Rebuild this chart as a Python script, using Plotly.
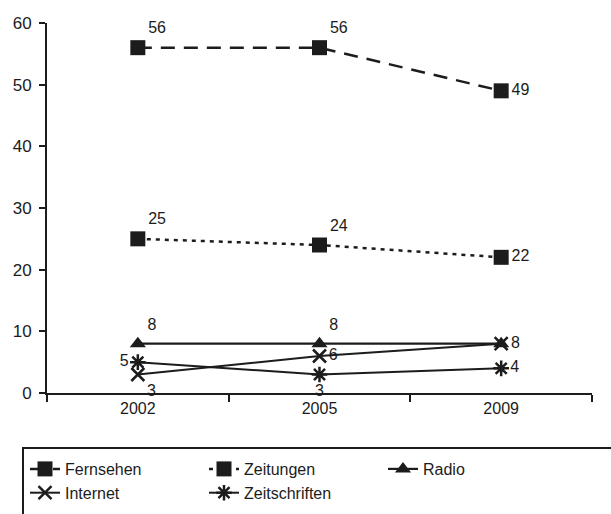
import plotly.graph_objects as go

years = ["2002", "2005", "2009"]
fernsehen = [56, 56, 49]
zeitungen = [25, 24, 22]
radio = [8, 8, 8]
internet = [3, 6, 8]
zeitschriften = [5, 3, 4]

FONT = "Liberation Sans, Arial, sans-serif"
INK = "#1c1c1c"

series = [
    dict(name="Fernsehen", y=fernsehen, dash="14px,9px", width=2.5,
         symbol="square", size=15, lw=0,
         pos=["top right", "top right", "middle right"], show=[True, True, True]),
    dict(name="Zeitungen", y=zeitungen, dash="4px,5px", width=2.5,
         symbol="square", size=15, lw=0,
         pos=["top right", "top right", "middle right"], show=[True, True, True]),
    dict(name="Radio", y=radio, dash="solid", width=2.2,
         symbol="triangle-up", size=14, lw=0,
         pos=["top right", "top right", "middle right"], show=[True, True, True]),
    dict(name="Internet", y=internet, dash="solid", width=2,
         symbol="x-thin-open", size=13, lw=2.5,
         pos=["bottom right", "middle right", "middle right"], show=[True, True, False]),
    dict(name="Zeitschriften", y=zeitschriften, dash="solid", width=2,
         symbol="asterisk-open", size=13, lw=2.5,
         pos=["middle left", "bottom center", "middle right"], show=[True, True, True]),
]

fig = go.Figure()
for s in series:
    fig.add_trace(go.Scatter(
        x=years, y=s["y"], name=s["name"], mode="lines+markers+text",
        line=dict(color=INK, width=s["width"], dash=s["dash"]),
        marker=dict(symbol=s["symbol"], size=s["size"], color=INK,
                    line=dict(color=INK, width=s["lw"])),
        text=[str(v) if sh else "" for v, sh in zip(s["y"], s["show"])],
        textposition=s["pos"],
        textfont=dict(family=FONT, size=16, color=INK),
        cliponaxis=False,
    ))

fig.update_layout(
    width=611, height=514,
    margin=dict(l=47, r=19, t=23, b=121),
    paper_bgcolor="white", plot_bgcolor="white",
    font=dict(family=FONT, size=16, color=INK),
    showlegend=True,
    legend=dict(orientation="h", xref="container", yref="container",
                x=25 / 611, y=1 - 452 / 514, xanchor="left", yanchor="top",
                entrywidth=134, entrywidthmode="pixels",
                font=dict(family=FONT, size=16, color=INK),
                bgcolor="rgba(0,0,0,0)", borderwidth=0),
    xaxis=dict(type="category", range=[-0.5, 2.5], showline=True, linecolor=INK, linewidth=2,
               ticks="outside", tickson="boundaries", ticklen=7, tickwidth=2,
               tickcolor=INK, showgrid=False, zeroline=False,
               tickfont=dict(family=FONT, size=16, color=INK)),
    yaxis=dict(range=[0, 60], dtick=10, showline=True, linecolor=INK, linewidth=2,
               ticks="outside", ticklen=6, tickwidth=2, tickcolor=INK,
               ticklabelstandoff=4,
               showgrid=False, zeroline=False,
               tickfont=dict(family=FONT, size=17, color=INK)),
    shapes=[dict(type="rect", xref="paper", yref="paper",
                 x0=-24 / 545, x1=1.1, y0=-0.36, y1=-55 / 369.6,
                 line=dict(color=INK, width=2), fillcolor="rgba(0,0,0,0)")],
)

fig.write_html("out.html")
